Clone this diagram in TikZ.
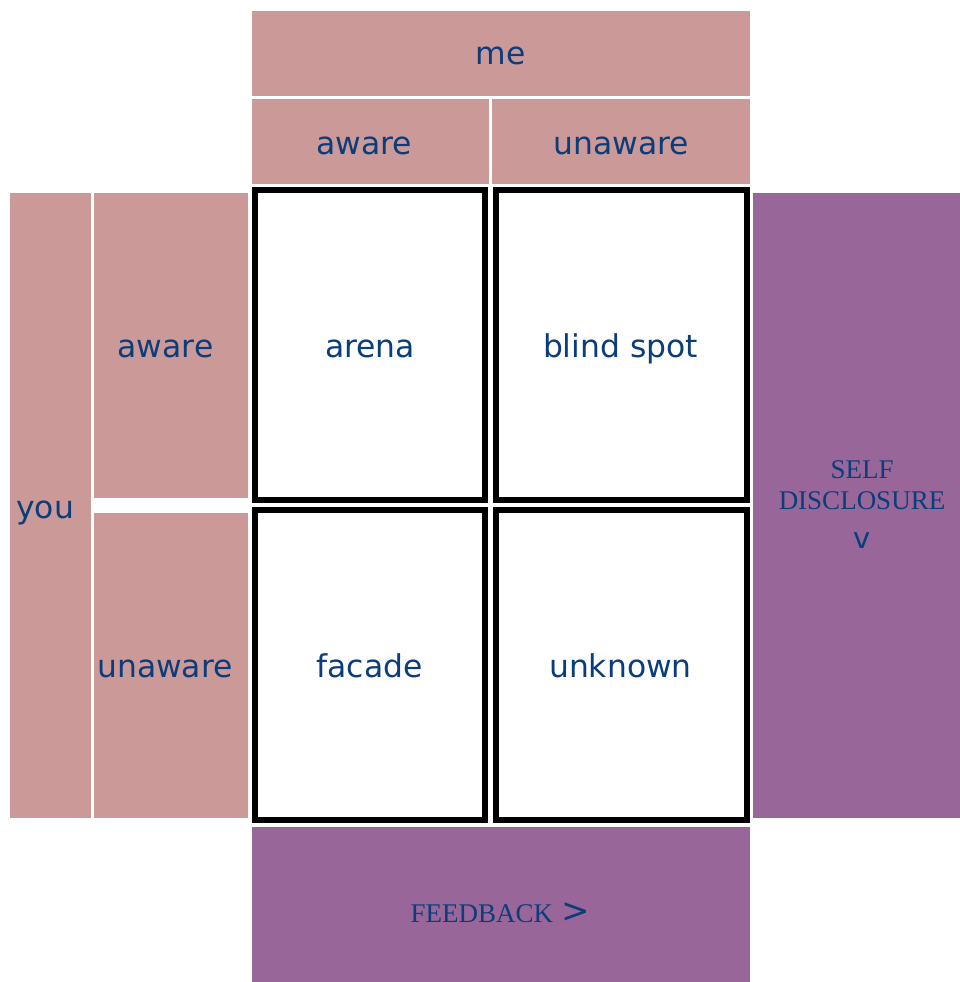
\documentclass[tikz,border=0pt]{standalone}
\usepackage{fontspec}
\setmainfont{Liberation Serif}
\newfontfamily\dvsans{DejaVu Sans}
\definecolor{pinkfill}{HTML}{CC9999}
\definecolor{purplefill}{HTML}{996699}
\definecolor{txtblue}{HTML}{0B3D7A}
\begin{document}
\begin{tikzpicture}[x=1pt,y=-1pt,
  pinkbox/.style={fill=pinkfill,draw=none,inner sep=0pt,outer sep=0pt},
  purplebox/.style={fill=purplefill,draw=none,inner sep=0pt,outer sep=0pt},
  cellbox/.style={fill=white,draw=black,line width=6pt,inner sep=0pt,outer sep=0pt,minimum width=230pt,minimum height=310pt},
  sanslbl/.style={text=txtblue,font=\dvsans\fontsize{31.4}{36}\selectfont,inner sep=0pt,anchor=base},
  seriflbl/.style={text=txtblue,font=\fontsize{27}{31}\selectfont,inner sep=0pt,anchor=base}]
\useasboundingbox (0,0) rectangle (960,982);
% header boxes
\node[pinkbox,minimum width=498pt,minimum height=85pt] (me) at (501,53.5) {};
\node[pinkbox,minimum width=236.5pt,minimum height=85pt] (awaretop) at (370.25,141.5) {};
\node[pinkbox,minimum width=258pt,minimum height=85pt] (unawaretop) at (621,141.5) {};
% left boxes
\node[pinkbox,minimum width=80.7pt,minimum height=625pt] (you) at (50.65,505.5) {};
\node[pinkbox,minimum width=154.3pt,minimum height=304.7pt] (awareleft) at (171.15,345.35) {};
\node[pinkbox,minimum width=154.3pt,minimum height=305pt] (unawareleft) at (171.15,665.5) {};
% purple boxes
\node[purplebox,minimum width=207pt,minimum height=625pt] (self) at (856.5,505.5) {};
\node[purplebox,minimum width=498pt,minimum height=155pt] (feedback) at (501,904.5) {};
% cells
\node[cellbox] (arena) at (370,345) {};
\node[cellbox,minimum width=251pt] (blind) at (621.5,345) {};
\node[cellbox] (facade) at (370,665) {};
\node[cellbox,minimum width=251pt] (unknown) at (621.5,665) {};
% labels
\node[sanslbl] (tme) at (500.5,65) {me};
\node[sanslbl] (tawaretop) at (364,154) {aware};
\node[sanslbl] (tunawaretop) at (621,154) {unaware};
\node[sanslbl,anchor=base west] (tyou) at (16,518) {you};
\node[sanslbl] (tawareleft) at (165.5,357.7) {aware};
\node[sanslbl] (tunawareleft) at (165,677.5) {unaware};
\node[sanslbl] (tarena) at (370,357.7) {arena};
\node[sanslbl] (tblind) at (620.5,357.7) {blind spot};
\node[sanslbl] (tfacade) at (369.5,677.5) {facade};
\node[sanslbl] (tunknown) at (620.5,677.5) {unknown};
\node[seriflbl] (tself1) at (862,478.3) {SELF};
\node[seriflbl] (tself2) at (862,509) {DISCLOSURE};
\node[seriflbl,font=\dvsans\fontsize{29}{31}\selectfont] (tself3) at (862,548) {v};
\node[seriflbl] (tfeed) at (500,922) {FEEDBACK\hspace{8pt}{\dvsans\fontsize{34}{36}\selectfont >}};
\end{tikzpicture}
\end{document}
